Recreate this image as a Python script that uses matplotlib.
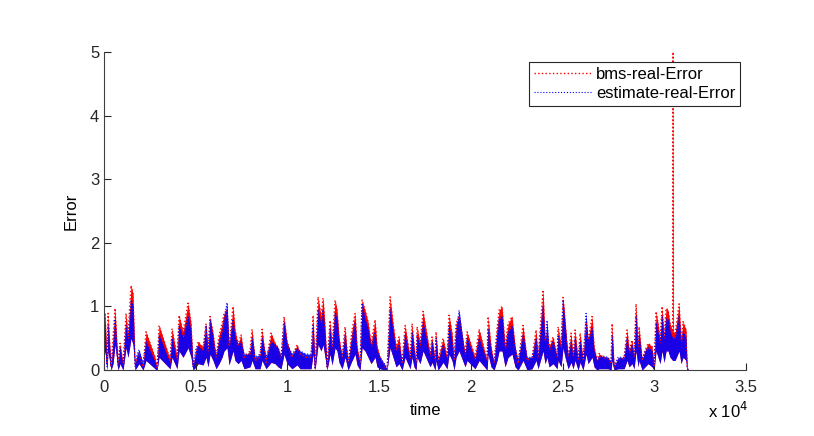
import matplotlib
matplotlib.use("Agg")
import matplotlib.pyplot as plt

plt.rcParams['font.family'] = ['Liberation Sans', 'DejaVu Sans']

# time samples (knots) and the two error traces
t = [0, 55, 164, 218, 382, 491, 600, 763, 872, 1036, 1199, 1308, 1472, 1581, 1690,
     1799, 1908, 2126, 2290, 2781, 2890, 2999, 3598, 3707, 3980, 4089, 4307, 4580,
     4743, 4852, 5016, 5125, 5397, 5561, 5670, 5779, 5943, 6106, 6270, 6433, 6542,
     6706, 6815, 7033, 7142, 7306, 7469, 7633, 7960, 8069, 8233, 8505, 8614, 8832,
     9105, 9323, 9486, 9650, 9814, 9977, 10250, 10522, 10686, 11013, 11286, 11395,
     11504, 11667, 11831, 11940, 12049, 12158, 12322, 12431, 12594, 12703, 12812,
     12976, 13140, 13303, 13521, 13685, 13794, 13957, 14066, 14230, 14393, 14557,
     14775, 14884, 15048, 15320, 15429, 15593, 15757, 15920, 16083, 16247, 16411,
     16683, 16792, 16901, 17010, 17065, 17228, 17392, 17774, 17883, 18046, 18101,
     18210, 18482, 18700, 18809, 18973, 19082, 19191, 19355, 19682, 19791, 20227,
     20445, 20881, 20936, 21099, 21263, 21426, 21535, 21699, 21863, 22026, 22244,
     22408, 22571, 22844, 23062, 23335, 23553, 23662, 23934, 24043, 24152, 24261,
     24479, 24697, 24752, 24916, 25025, 25134, 25298, 25461, 25570, 25679, 25843,
     25952, 26115, 26279, 26388, 26606, 26715, 26879, 26987, 27205, 27478, 27641,
     27696, 27805, 28023, 28350, 28514, 28623, 28786, 28895, 29004, 29113, 29168,
     29332, 29495, 29659, 29877, 29986, 30095, 30204, 30313, 30422, 30531, 30640,
     30749, 30858, 31000, 31020, 31040, 31131, 31349, 31458, 31567, 31730, 31785,
     31840]

bms_err = [0.75, 0.9, 0.1, 0.89, 0.05, 0.5, 0.97, 0.1, 0.42, 0.1, 0.89, 0.55, 1.33,
           1.2, 0.1, 0.2, 0.25, 0.05, 0.6, 0.2, 0.02, 0.7, 0.17, 0.65, 0.2, 0.86,
           0.6, 1.05, 0.73, 0.08, 0.25, 0.45, 0.35, 0.73, 0.3, 0.84, 0.58, 0.2,
           0.55, 0.73, 0.89, 0.95, 0.37, 1.0, 0.63, 0.4, 0.55, 0.2, 0.3, 0.64,
           0.15, 0.2, 0.64, 0.12, 0.58, 0.42, 0.35, 0.2, 0.84, 0.45, 0.2, 0.4,
           0.25, 0.2, 0.2, 0.86, 0.02, 1.15, 0.84, 1.13, 0.68, 0.05, 0.78, 0.37,
           1.1, 0.94, 0.52, 0.2, 0.68, 0.1, 0.63, 0.89, 0.37, 0.1, 1.1, 0.94,
           0.76, 0.42, 0.79, 0.37, 0.2, 0.05, 0.0, 1.15, 0.73, 0.37, 0.52, 0.1,
           0.7, 0.2, 0.73, 0.37, 0.1, 0.68, 0.42, 0.92, 0.26, 0.52, 0.15, 0.6,
           0.15, 0.5, 0.2, 0.86, 0.58, 0.15, 0.73, 0.85, 0.26, 0.6, 0.2, 0.64,
           0.15, 0.84, 0.37, 0.1, 0.65, 0.94, 1.0, 0.37, 0.73, 0.84, 0.37, 0.1,
           0.7, 0.15, 0.2, 0.63, 0.2, 1.26, 0.47, 0.6, 0.37, 0.52, 0.2, 0.68,
           0.37, 1.14, 0.78, 0.2, 0.58, 0.2, 0.63, 0.15, 0.58, 0.15, 0.75, 0.47,
           0.84, 0.37, 0.15, 0.26, 0.2, 0.18, 0.1, 0.73, 0.05, 0.18, 0.18, 0.63,
           0.31, 0.47, 0.2, 1.04, 0.37, 0.68, 0.16, 0.31, 0.42, 0.37, 0.05, 0.92,
           0.73, 0.47, 1.0, 0.52, 0.97, 0.94, 0.73, 0.6, 5.2, 0.6, 0.58, 1.04,
           0.47, 0.76, 0.63, 0.05, 0.0]

est_err = [0.55, 0.7, 0.05, 0.7, 0.05, 0.35, 0.8, 0.05, 0.35, 0.05, 0.7, 0.45, 1.1,
           1.0, 0.05, 0.25, 0.32, 0.1, 0.45, 0.12, 0.02, 0.55, 0.1, 0.5, 0.12, 0.7,
           0.5, 0.85, 0.6, 0.05, 0.35, 0.38, 0.3, 0.7, 0.25, 0.8, 0.5, 0.2, 0.45,
           0.6, 0.8, 1.06, 0.35, 0.8, 0.5, 0.4, 0.45, 0.25, 0.25, 0.5, 0.2, 0.25,
           0.5, 0.2, 0.45, 0.4, 0.35, 0.2, 0.75, 0.4, 0.25, 0.35, 0.3, 0.25, 0.25,
           0.7, 0.02, 0.95, 0.7, 0.95, 0.55, 0.05, 0.65, 0.3, 0.9, 0.8, 0.45, 0.2,
           0.55, 0.1, 0.5, 0.75, 0.3, 0.1, 1.05, 0.8, 0.65, 0.35, 0.6, 0.3, 0.2,
           0.08, 0.0, 0.95, 0.6, 0.3, 0.4, 0.1, 0.55, 0.15, 0.6, 0.3, 0.1, 0.55,
           0.35, 0.75, 0.2, 0.45, 0.12, 0.5, 0.12, 0.4, 0.15, 0.7, 0.45, 0.15, 0.6,
           0.94, 0.2, 0.5, 0.15, 0.5, 0.12, 0.65, 0.3, 0.1, 0.55, 0.8, 0.85, 0.3,
           0.6, 0.7, 0.35, 0.15, 0.55, 0.2, 0.2, 0.5, 0.2, 1.0, 0.4, 0.78, 0.3,
           0.45, 0.2, 0.55, 0.3, 1.1, 0.7, 0.2, 0.45, 0.2, 0.5, 0.15, 0.45, 0.15,
           0.89, 0.45, 0.65, 0.3, 0.15, 0.2, 0.22, 0.2, 0.12, 0.55, 0.05, 0.2, 0.2,
           0.5, 0.25, 0.4, 0.2, 0.85, 0.3, 0.55, 0.15, 0.3, 0.35, 0.3, 0.05, 0.75,
           0.6, 0.4, 0.85, 0.45, 0.8, 0.8, 0.6, 0.5, 0.5, 0.5, 0.5, 0.85, 0.4, 0.6,
           0.5, 0.05, 0.0]

# lower edge of the dense noise band
band_floor = [0.2, 0.3, 0, 0.3, 0, 0.1, 0.4, 0, 0.1, 0, 0.35, 0.2, 0.5, 0.4, 0, 0.05,
              0.1, 0, 0.15, 0.02, 0, 0.2, 0.02, 0.2, 0.02, 0.3, 0.2, 0.35, 0.2, 0,
              0.05, 0.1, 0.08, 0.2, 0.05, 0.25, 0.15, 0.02, 0.1, 0.2, 0.3, 0.35, 0.08,
              0.3, 0.15, 0.1, 0.15, 0.02, 0.05, 0.15, 0.02, 0.02, 0.15, 0.02, 0.12,
              0.1, 0.05, 0.02, 0.25, 0.1, 0.02, 0.08, 0.02, 0.02, 0.02, 0.25, 0, 0.4,
              0.3, 0.4, 0.2, 0, 0.25, 0.08, 0.35, 0.3, 0.12, 0.02, 0.2, 0, 0.15, 0.25,
              0.08, 0, 0.35, 0.3, 0.2, 0.1, 0.2, 0.05, 0.02, 0, 0, 0.35, 0.2, 0.05,
              0.1, 0, 0.2, 0.02, 0.2, 0.05, 0, 0.2, 0.1, 0.3, 0.05, 0.12, 0, 0.15, 0,
              0.12, 0.02, 0.25, 0.15, 0, 0.2, 0.3, 0.05, 0.15, 0.02, 0.15, 0, 0.25,
              0.05, 0, 0.15, 0.3, 0.3, 0.05, 0.2, 0.25, 0.05, 0, 0.15, 0, 0.02, 0.15,
              0.02, 0.3, 0.1, 0.2, 0.05, 0.1, 0.02, 0.15, 0.05, 0.35, 0.2, 0.02, 0.12,
              0.02, 0.15, 0, 0.12, 0, 0.25, 0.1, 0.2, 0.05, 0, 0.02, 0.02, 0.02, 0,
              0.15, 0, 0.02, 0.02, 0.15, 0.05, 0.1, 0.02, 0.3, 0.05, 0.15, 0, 0.05,
              0.1, 0.05, 0, 0.3, 0.2, 0.1, 0.3, 0.12, 0.3, 0.3, 0.2, 0.15, 0.15, 0.15,
              0.15, 0.3, 0.1, 0.2, 0.15, 0, 0]

xticks = [0, 5000, 10000, 15000, 20000, 25000, 30000, 35000]
xtick_labels = ['0', '0.5', '1', '1.5', '2', '2.5', '3', '3.5']
yticks = [0, 1, 2, 3, 4, 5]

fig = plt.figure(figsize=(8.14, 4.36), dpi=100)
ax = fig.add_axes([0.1278, 0.1514, 0.7887, 0.7294])

ax.fill_between(t, band_floor, bms_err, color='red', lw=0)
l1, = ax.plot(t, bms_err, color='red', ls=':', lw=1.0, label='bms-real-Error')
ax.fill_between(t, band_floor, est_err, color='blue', lw=0, alpha=0.9)
l2, = ax.plot(t, est_err, color='blue', ls=':', lw=0.8, label='estimate-real-Error')

ax.set_xlim(0, 35000)
ax.set_ylim(0, 5)
ax.set_xticks(xticks)
ax.set_xticklabels(xtick_labels)
ax.set_yticks(yticks)
ax.tick_params(direction='in', length=5, labelsize=12, colors='#262626')
ax.tick_params(axis='x', pad=7)
for s in ['top', 'right']:
    ax.spines[s].set_visible(False)
for s in ['left', 'bottom']:
    ax.spines[s].set_color('#404040')
    ax.spines[s].set_linewidth(0.8)

ax.set_xlabel('time', fontsize=12, labelpad=6)
ax.set_ylabel('Error', fontsize=12, labelpad=8)
ax.text(1.003, -0.152, r'x 10$^4$', transform=ax.transAxes, ha='right', va='baseline', fontsize=12)

leg = ax.legend(handles=[l1, l2], loc='upper right', bbox_to_anchor=(0.991, 0.969),
                fontsize=12, fancybox=False, framealpha=1, edgecolor='#262626',
                handlelength=3.4, handletextpad=0.3, borderaxespad=0, labelspacing=0.25,
                borderpad=0.3)
leg.get_frame().set_linewidth(0.8)

fig.savefig('out.png', dpi=100)
